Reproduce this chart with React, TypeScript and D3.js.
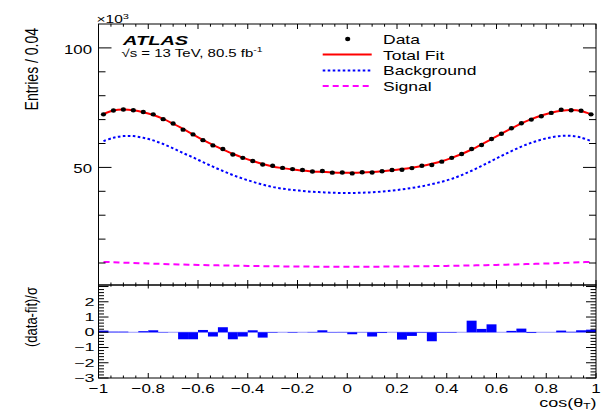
import React, { useEffect, useRef } from 'react';
import * as d3 from 'd3';

// bin centres of cos(theta_T), 50 bins of 0.04
const binCenters = [
  -0.98, -0.94, -0.9, -0.86, -0.82, -0.78, -0.74, -0.7, -0.66, -0.62,
  -0.58, -0.54, -0.5, -0.46, -0.42, -0.38, -0.34, -0.3, -0.26, -0.22,
  -0.18, -0.14, -0.1, -0.06, -0.02, 0.02, 0.06, 0.1, 0.14, 0.18,
  0.22, 0.26, 0.3, 0.34, 0.38, 0.42, 0.46, 0.5, 0.54, 0.58,
  0.62, 0.66, 0.7, 0.74, 0.78, 0.82, 0.86, 0.9, 0.94, 0.98,
];

// entries in units of 10^3
const dataVals = [
  72.2, 73.8, 74.2, 73.9, 73.2, 72.2, 70.2, 68.4, 65.8, 63.8,
  61.4, 59.2, 57.7, 55.4, 54.0, 52.7, 51.2, 50.7, 49.8, 49.3,
  48.9, 48.3, 48.5, 47.8, 47.9, 47.5, 48.0, 47.9, 48.4, 48.9,
  49.0, 49.7, 50.7, 51.0, 52.4, 54.0, 55.6, 57.7, 59.4, 61.9,
  64.1, 66.4, 68.5, 70.0, 71.4, 72.8, 74.1, 73.9, 73.7, 72.2,
];

const fitVals = [
  72.3, 73.8, 74.2, 73.9, 73.1, 71.9, 70.3, 68.3, 66.1, 63.8,
  61.5, 59.4, 57.5, 55.7, 54.1, 52.7, 51.4, 50.4, 49.7, 49.1,
  48.7, 48.3, 48.1, 47.9, 47.8, 47.8, 47.9, 48.1, 48.4, 48.8,
  49.3, 49.9, 50.6, 51.5, 52.6, 54.0, 55.6, 57.5, 59.6, 61.8,
  64.1, 66.3, 68.4, 70.2, 71.7, 72.9, 73.7, 74.0, 73.6, 72.2,
];

const bkgVals = [
  61.0, 62.4, 63.1, 63.1, 62.4, 61.3, 59.8, 58.0, 56.0, 54.2,
  52.2, 50.3, 48.5, 46.8, 45.3, 44.0, 42.8, 41.8, 41.1, 40.6,
  40.2, 39.8, 39.6, 39.4, 39.3, 39.3, 39.4, 39.6, 39.9, 40.3,
  40.8, 41.4, 42.1, 43.0, 44.0, 45.2, 46.8, 48.6, 50.6, 52.7,
  54.8, 56.8, 58.7, 60.3, 61.6, 62.6, 63.2, 63.2, 62.5, 61.0,
];

const sigVals = [
  10.47, 10.31, 10.15, 10.0, 9.86, 9.73, 9.6, 9.48, 9.37, 9.26,
  9.16, 9.06, 8.98, 8.9, 8.82, 8.75, 8.69, 8.64, 8.59, 8.55,
  8.52, 8.49, 8.47, 8.46, 8.45, 8.45, 8.46, 8.47, 8.49, 8.52,
  8.55, 8.59, 8.64, 8.69, 8.75, 8.82, 8.9, 8.98, 9.06, 9.16,
  9.26, 9.37, 9.48, 9.6, 9.73, 9.86, 10.0, 10.15, 10.31, 10.5,
];

// (data-fit)/sigma
const pullVals = [
  0.11, 0.04, 0.04, 0.0, 0.07, 0.13, -0.02, 0.0, -0.46, -0.46,
  0.15, -0.28, 0.33, -0.46, -0.28, 0.13, -0.35, -0.03, 0.0, -0.03,
  0.0, 0.02, 0.13, -0.02, 0.02, -0.13, -0.01, -0.28, -0.05, 0.0,
  -0.48, -0.24, -0.03, -0.59, -0.03, -0.03, 0.0, 0.76, 0.22, 0.52,
  0.0, 0.09, 0.24, -0.05, 0.0, 0.0, 0.11, 0.03, 0.13, 0.17,
];

const xMajorTicks = [-1, -0.8, -0.6, -0.4, -0.2, 0, 0.2, 0.4, 0.6, 0.8, 1];
const xTickLabels = ['\u22121', '\u22120.8', '\u22120.6', '\u22120.4', '\u22120.2', '0', '0.2', '0.4', '0.6', '0.8', '1'];
const yMajorTicks = [50, 100];
const yTickLabels = ['50', '100'];
const pullTicks = [-3, -2, -1, 0, 1, 2];
const pullTickLabels = ['\u22123', '\u22122', '\u22121', '0', '1', '2'];
const legendLabels = ['Data', 'Total Fit', 'Background', 'Signal'];

const FONT = '"Liberation Sans", Arial, Helvetica, sans-serif';

const App = () => {
  const svgRef = useRef(null);

  useEffect(() => {
    const svg = d3.select(svgRef.current);
    svg.selectAll('*').remove();

    const left = 98.5;
    const right = 596;
    const top = 24;
    const mid = 285;
    const bottom = 378;

    const x = d3.scaleLinear().domain([-1, 1]).range([left, right]);
    const y = d3.scaleLinear().domain([0.8, 110]).range([mid, top]);
    const yp = d3.scaleLinear().domain([-3, 3.1]).range([bottom, mid]);

    // text helper, the reference is squashed vertically
    const txt = (s, px, py, size, anchor = 'start', sy = 0.72, weight = 'normal', style = 'normal') =>
      svg
        .append('text')
        .attr('transform', `translate(${px},${py}) scale(1,${sy})`)
        .attr('font-family', FONT)
        .attr('font-size', size)
        .attr('font-weight', weight)
        .attr('font-style', style)
        .attr('text-anchor', anchor)
        .attr('fill', '#000')
        .text(s);

    const tick = (x1, y1, x2, y2) =>
      svg
        .append('line')
        .attr('x1', x1)
        .attr('y1', y1)
        .attr('x2', x2)
        .attr('y2', y2)
        .attr('stroke', '#000')
        .attr('stroke-width', 1);

    const clip = svg.append('defs').append('clipPath').attr('id', 'upclip');
    clip.append('rect').attr('x', left).attr('y', top).attr('width', right - left).attr('height', mid - top);

    // curves
    const idx = d3.range(binCenters.length);
    const mkLine = (vals) =>
      d3
        .line()
        .x((i) => x(binCenters[i]))
        .y((i) => y(vals[i]))
        .curve(d3.curveCatmullRom)(idx);

    const plot = svg.append('g').attr('clip-path', 'url(#upclip)');
    plot
      .append('path')
      .attr('d', mkLine(sigVals))
      .attr('fill', 'none')
      .attr('stroke', '#ff00ff')
      .attr('stroke-width', 2)
      .attr('stroke-dasharray', '6,4');
    plot
      .append('path')
      .attr('d', mkLine(bkgVals))
      .attr('fill', 'none')
      .attr('stroke', '#0000ff')
      .attr('stroke-width', 2)
      .attr('stroke-dasharray', '2.6,2.4');
    plot
      .append('path')
      .attr('d', mkLine(fitVals))
      .attr('fill', 'none')
      .attr('stroke', '#ff0000')
      .attr('stroke-width', 2);
    plot
      .selectAll('ellipse.pt')
      .data(idx)
      .enter()
      .append('ellipse')
      .attr('class', 'pt')
      .attr('cx', (i) => x(binCenters[i]))
      .attr('cy', (i) => y(dataVals[i]))
      .attr('rx', 2.6)
      .attr('ry', 2.2)
      .attr('fill', '#000');

    // pull histogram
    svg
      .append('line')
      .attr('x1', left)
      .attr('x2', right)
      .attr('y1', yp(0))
      .attr('y2', yp(0))
      .attr('stroke', '#9a9aff')
      .attr('stroke-width', 1);
    svg
      .selectAll('rect.pull')
      .data(idx)
      .enter()
      .append('rect')
      .attr('class', 'pull')
      .attr('x', (i) => x(binCenters[i] - 0.02))
      .attr('width', (i) => x(binCenters[i] + 0.02) - x(binCenters[i] - 0.02))
      .attr('y', (i) => yp(Math.max(pullVals[i], 0)))
      .attr('height', (i) => Math.abs(yp(pullVals[i]) - yp(0)))
      .attr('fill', '#0000ff');

    // frames
    [[top, mid], [mid, bottom]].forEach(([t, b]) => {
      svg
        .append('rect')
        .attr('x', left)
        .attr('y', t)
        .attr('width', right - left)
        .attr('height', b - t)
        .attr('fill', 'none')
        .attr('stroke', '#000')
        .attr('stroke-width', 1);
    });

    // x ticks, minor every 0.05
    d3.range(-1, 1.0001, 0.05).forEach((v) => {
      const major = Math.abs(v * 5 - Math.round(v * 5)) < 1e-6;
      const px = x(v);
      tick(px, top, px, top + (major ? 5 : 2.7));
      tick(px, mid, px, mid - (major ? 5 : 2.5));
      tick(px, mid, px, mid + (major ? 3.5 : 1.7));
      tick(px, bottom, px, bottom - (major ? 5 : 2.5));
    });

    // upper y ticks every 10
    d3.range(10, 101, 10).forEach((v) => {
      const major = v % 50 === 0;
      const py = y(v);
      tick(left, py, left + (major ? 13 : 7), py);
      tick(right, py, right - (major ? 13 : 7), py);
    });

    // pull y ticks every 0.2
    d3.range(-3, 3.0001, 0.2).forEach((v) => {
      const major = Math.abs(v - Math.round(v)) < 1e-6;
      const py = yp(v);
      tick(left, py, left + (major ? 10 : 5.5), py);
      tick(right, py, right - (major ? 10 : 5.5), py);
    });

    // tick labels
    xMajorTicks.forEach((v, i) => txt(xTickLabels[i], x(v), 392.7, 17, 'middle', 0.8));
    yMajorTicks.forEach((v, i) => txt(yTickLabels[i], 92, y(v) + 6, 16.8, 'end', 0.72));
    pullTicks.forEach((v, i) => txt(pullTickLabels[i], 94.5, yp(v) + 3.8, 18, 'end', 0.6));

    // exponent
    const e = txt('\u00d710', 96.5, 22.7, 15.5, 'start', 0.7);
    e.append('tspan').attr('dy', -6).attr('font-size', 11).text('3');

    // axis titles
    svg
      .append('text')
      .attr('transform', 'translate(38,28) scale(1.25,1) rotate(-90)')
      .attr('font-family', FONT)
      .attr('font-size', 14)
      .attr('text-anchor', 'end')
      .text('Entries / 0.04');
    svg
      .append('text')
      .attr('transform', 'translate(37,287) scale(1.25,1) rotate(-90)')
      .attr('font-family', FONT)
      .attr('font-size', 13)
      .attr('text-anchor', 'end')
      .text('(data-fit)/\u03c3');

    const c = txt('cos(\u03b8', 596.5, 406.7, 18, 'end', 0.7);
    c.append('tspan').attr('dy', 3).attr('font-size', 12).text('T');
    c.append('tspan').attr('dy', -3).text(')');

    // ATLAS label
    txt('ATLAS', 123, 45.3, 20, 'start', 0.66, 'bold', 'italic');
    const s = txt('\u221as = 13 TeV, 80.5 fb', 121.5, 56.8, 15, 'start', 0.72);
    s.append('tspan').attr('dy', -6).attr('font-size', 10.5).text('-1');

    // legend
    const rows = [43.7, 59.5, 75.3, 91];
    legendLabels.forEach((lab, i) => txt(lab, 383, rows[i], 17.5, 'start', 0.78));
    svg.append('ellipse').attr('cx', 347.7).attr('cy', 39).attr('rx', 2.6).attr('ry', 2.2).attr('fill', '#000');
    svg
      .append('line')
      .attr('x1', 322.7)
      .attr('x2', 371.7)
      .attr('y1', 54.5)
      .attr('y2', 54.5)
      .attr('stroke', '#ff0000')
      .attr('stroke-width', 2);
    svg
      .append('line')
      .attr('x1', 322.7)
      .attr('x2', 371.7)
      .attr('y1', 70.5)
      .attr('y2', 70.5)
      .attr('stroke', '#0000ff')
      .attr('stroke-width', 2)
      .attr('stroke-dasharray', '2.6,2.4');
    svg
      .append('line')
      .attr('x1', 322.7)
      .attr('x2', 371.7)
      .attr('y1', 86)
      .attr('y2', 86)
      .attr('stroke', '#ff00ff')
      .attr('stroke-width', 2)
      .attr('stroke-dasharray', '6,4');
  }, []);

  return (
    <svg
      ref={svgRef}
      width={602}
      height={413}
      style={{ position: 'absolute', left: 0, top: 0, background: '#fff' }}
    ></svg>
  );
};

export default App;
